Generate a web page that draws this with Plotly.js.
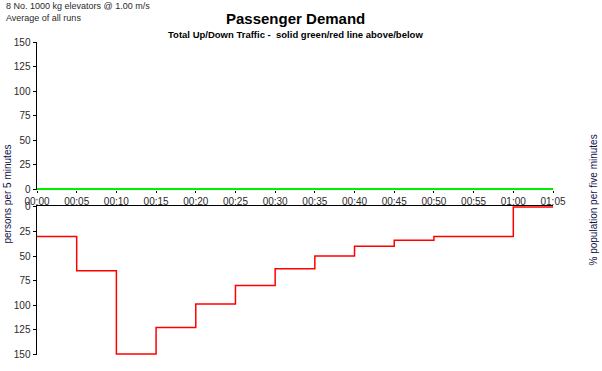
<!DOCTYPE html>
<html>
<head>
<meta charset="utf-8">
<script src="https://cdn.plot.ly/plotly-3.0.1.min.js"></script>
<style>
html,body{margin:0;padding:0;background:#fff;}
#chart{width:602px;height:371px;}
</style>
</head>
<body>
<div id="chart"></div>
<script>
// Data
const minutes = [0,5,10,15,20,25,30,35,40,45,50,55,60,65];
const tickLabels = ["00:00","00:05","00:10","00:15","00:20","00:25","00:30","00:35","00:40","00:45","00:50","00:55","01:00","01:05"];
const upTraffic = [0,0,0,0,0,0,0,0,0,0,0,0,0,0];
const downTraffic = [30,65,150,123,99,80,63,50,40,34,30,30,0,0];
const leftTicks = [0,25,50,75,100,125,150];
const rightTicks = [0,2,4,6,8,10,12,14];

const FONT = "Liberation Sans, Arial, sans-serif";
const TXT = "#2a2a2a";

const traces = [
  {x: minutes, y: upTraffic, xaxis:'x', yaxis:'y', mode:'lines', line:{color:'#00ee00', width:2}, cliponaxis:false, hoverinfo:'skip'},
  {x: minutes, y: downTraffic, xaxis:'x2', yaxis:'y2', mode:'lines', line:{color:'#ff0000', width:1.5, shape:'hv'}, cliponaxis:false, hoverinfo:'skip'}
];

const commonX = {range:[0,65], showgrid:false, zeroline:false, showline:true, linecolor:'#000', linewidth:1, fixedrange:true, layer:'below traces'};
const commonY = {showgrid:false, zeroline:false, showline:true, linecolor:'#000', linewidth:1.5, ticks:'outside', ticklen:3, tickcolor:'#000', tickfont:{family:FONT, size:10, color:TXT}, fixedrange:true, layer:'below traces'};

const layout = {
  width:602, height:371,
  paper_bgcolor:'#fff', plot_bgcolor:'rgba(0,0,0,0)',
  margin:{l:37, r:49, t:42, b:16},
  showlegend:false,
  font:{family:FONT, color:TXT},
  xaxis: Object.assign({}, commonX, {domain:[0,1], anchor:'y', showline:false, tickvals:minutes, ticktext:tickLabels, ticks:'outside', ticklen:2, tickcolor:'#000', tickfont:{family:FONT, size:10, color:TXT}}),
  xaxis2: Object.assign({}, commonX, {domain:[0,1], anchor:'y2', side:'top', showticklabels:false, ticks:'', linewidth:1.5}),
  yaxis: Object.assign({}, commonY, {domain:[0.527,1], range:[-1,150], tickvals:leftTicks}),
  yaxis2: Object.assign({}, commonY, {domain:[0,0.476], range:[151,-1], tickvals:leftTicks}),
  yaxis3: Object.assign({}, commonY, {overlaying:'y', side:'right', anchor:'x', range:[-0.1,15], tickvals:rightTicks}),
  yaxis4: Object.assign({}, commonY, {overlaying:'y2', side:'right', anchor:'x2', range:[15.1,-0.1], tickvals:rightTicks}),
  annotations:[
    {text:'<b>Passenger Demand</b>', xref:'paper', yref:'paper', x:0.5, y:1, yshift:24, xanchor:'center', yanchor:'middle', showarrow:false, font:{family:FONT, size:15, color:'#000'}},
    {text:'<b>Total Up/Down Traffic -  solid green/red line above/below</b>', xref:'paper', yref:'paper', x:0.5, y:1, yshift:8, xanchor:'center', yanchor:'middle', showarrow:false, font:{family:FONT, size:9.5, color:'#000'}},
    {text:'8 No. 1000 kg elevators @ 1.00 m/s<br>Average of all runs', xref:'paper', yref:'paper', x:0, xshift:-33, y:1, yshift:43, xanchor:'left', yanchor:'top', align:'left', showarrow:false, font:{family:FONT, size:9, color:TXT}},
    {text:'persons per 5 minutes', xref:'paper', yref:'paper', x:0, xshift:-30, y:0.5, yshift:4, xanchor:'center', yanchor:'middle', textangle:-90, showarrow:false, font:{family:FONT, size:10, color:'#10104a'}},
    {text:'% population per five minutes', xref:'paper', yref:'paper', x:1, xshift:40, y:0.5, yshift:-2, xanchor:'center', yanchor:'middle', textangle:-90, showarrow:false, font:{family:FONT, size:10, color:'#10104a'}}
  ]
};

Plotly.newPlot('chart', traces, layout, {displayModeBar:false, staticPlot:true});
</script>
</body>
</html>
